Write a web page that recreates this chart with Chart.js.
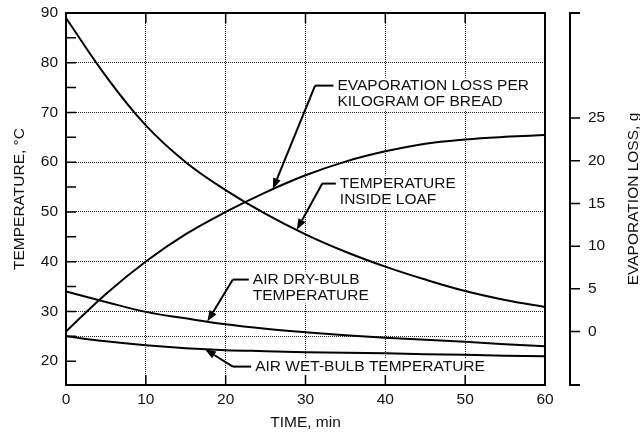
<!DOCTYPE html>
<html lang="en">
<head>
<meta charset="UTF-8">
<title>Bread cooling: temperature and evaporation loss</title>
<script src="https://cdn.jsdelivr.net/npm/chart.js@4"></script>
<style>
  html, body { margin: 0; padding: 0; background: #fff; }
</style>
</head>
<body>
<canvas id="chart" width="640" height="432"></canvas>
<script>
// values, every 5 minutes
const timeMin     = [0, 5, 10, 15, 20, 25, 30, 35, 40, 45, 50, 55, 60];
const loafTemp    = [89, 77.3, 67.4, 60.0, 54.4, 49.6, 45.5, 42.0, 39.0, 36.4, 34.1, 32.3, 30.9];
const dryBulbTemp = [34.0, 31.9, 29.9, 28.6, 27.4, 26.5, 25.8, 25.2, 24.7, 24.3, 23.9, 23.4, 23.0];
const wetBulbTemp = [25.0, 24.0, 23.2, 22.6, 22.2, 22.0, 21.8, 21.7, 21.6, 21.4, 21.3, 21.1, 21.0];
const evapLoss    = [0, 4.4, 8.2, 11.4, 14.0, 16.3, 18.3, 19.9, 21.1, 22.0, 22.5, 22.8, 23.0];

// axis ticks
const timeTicks = [0, 10, 20, 30, 40, 50, 60];
const tempTicks = [20, 25, 30, 35, 40, 45, 50, 55, 60, 65, 70, 75, 80, 85, 90];
const tempGrid  = [25, 30, 40, 50, 60, 70, 80];
const lossTicks = [0, 5, 10, 15, 20, 25];

const FONT_FAMILY = '"Liberation Sans", Arial, sans-serif';
const FONT_SIZE = 15.5;
const INK = '#111';

// callouts: tip sits on a series at time t, elbow and text in data units
const callouts = [
  { text: ['EVAPORATION LOSS PER', 'KILOGRAM OF BREAD'], series: evapLoss, axis: 'y2', t: 25.9, elbow: [31.2, 75.4], textX: 34.0 },
  { text: ['TEMPERATURE', 'INSIDE LOAF'], series: loafTemp, axis: 'y', t: 28.9, elbow: [32.1, 55.7], textX: 34.3 },
  { text: ['AIR DRY-BULB', 'TEMPERATURE'], series: dryBulbTemp, axis: 'y', t: 17.7, elbow: [20.9, 36.4], textX: 23.4 },
  { text: ['AIR WET-BULB TEMPERATURE'], series: wetBulbTemp, axis: 'y', t: 17.4, elbow: [20.9, 18.9], textX: 23.7 }
];

function valueAt(series, t) {
  for (let i = 1; i < timeMin.length; i++) {
    if (t <= timeMin[i]) {
      const f = (t - timeMin[i - 1]) / (timeMin[i] - timeMin[i - 1]);
      return series[i - 1] + f * (series[i] - series[i - 1]);
    }
  }
  return series[series.length - 1];
}

function toPoints(series) {
  return timeMin.map((t, i) => ({ x: t, y: series[i] }));
}

function arrow(ctx, x0, y0, x1, y1) {
  const ang = Math.atan2(y1 - y0, x1 - x0);
  const len = 11, half = 4;
  const bx = x1 - len * Math.cos(ang), by = y1 - len * Math.sin(ang);
  ctx.beginPath();
  ctx.moveTo(x0, y0);
  ctx.lineTo(bx, by);
  ctx.stroke();
  ctx.beginPath();
  ctx.moveTo(x1, y1);
  ctx.lineTo(bx + half * Math.sin(ang), by - half * Math.cos(ang));
  ctx.lineTo(bx - half * Math.sin(ang), by + half * Math.cos(ang));
  ctx.closePath();
  ctx.fill();
}

// frame, inner ticks, detached right axis and callouts
const overlay = {
  id: 'overlay',
  afterDraw(chart) {
    const { ctx, chartArea: a, scales: { x, y, y2 } } = chart;
    ctx.save();
    ctx.strokeStyle = '#000';
    ctx.fillStyle = INK;

    // ticks inside the frame
    ctx.lineWidth = 1.5;
    ctx.beginPath();
    tempTicks.forEach(v => {
      const py = y.getPixelForValue(v);
      ctx.moveTo(a.left, py);
      ctx.lineTo(a.left + 10, py);
    });
    timeTicks.forEach(v => {
      const px = x.getPixelForValue(v);
      ctx.moveTo(px, a.top);
      ctx.lineTo(px, a.top + 10);
      ctx.moveTo(px, a.bottom);
      ctx.lineTo(px, a.bottom - 10);
    });
    ctx.stroke();

    // frame
    ctx.lineWidth = 2;
    ctx.strokeRect(a.left, a.top, a.right - a.left, a.bottom - a.top);

    // evaporation axis, set off to the right of the frame
    const rx = a.right + 25;
    ctx.beginPath();
    ctx.moveTo(rx + 10, a.top);
    ctx.lineTo(rx, a.top);
    ctx.lineTo(rx, a.bottom);
    ctx.lineTo(rx + 10, a.bottom);
    ctx.stroke();
    ctx.lineWidth = 1.5;
    ctx.beginPath();
    lossTicks.forEach(v => {
      const py = y2.getPixelForValue(v);
      ctx.moveTo(rx, py);
      ctx.lineTo(rx + 10, py);
    });
    ctx.stroke();

    ctx.font = FONT_SIZE + 'px ' + FONT_FAMILY;
    ctx.save();
    ctx.translate(638, (a.top + a.bottom) / 2);
    ctx.rotate(-Math.PI / 2);
    ctx.textAlign = 'center';
    ctx.textBaseline = 'alphabetic';
    ctx.fillText('EVAPORATION LOSS, g', 0, 0);
    ctx.restore();

    // callouts
    ctx.lineWidth = 2;
    ctx.textAlign = 'left';
    ctx.textBaseline = 'middle';
    callouts.forEach(c => {
      const tipX = x.getPixelForValue(c.t);
      const tipY = chart.scales[c.axis].getPixelForValue(valueAt(c.series, c.t));
      const ex = x.getPixelForValue(c.elbow[0]);
      const ey = y.getPixelForValue(c.elbow[1]);
      const tx = x.getPixelForValue(c.textX);
      c.text.forEach((line, i) => {
        const ly = ey + i * 16;
        const w = ctx.measureText(line).width;
        ctx.fillStyle = '#fff';
        ctx.fillRect(tx - 1, ly - 8, w + 2, 16);
        ctx.fillStyle = INK;
        ctx.fillText(line, tx, ly);
      });
      ctx.beginPath();
      ctx.moveTo(tx - 4, ey);
      ctx.lineTo(ex, ey);
      ctx.stroke();
      ctx.fillStyle = '#000';
      arrow(ctx, ex, ey, tipX, tipY);
    });
    ctx.restore();
  }
};

Chart.defaults.font.family = FONT_FAMILY;
Chart.defaults.font.size = FONT_SIZE;
Chart.defaults.color = INK;

const lineStyle = {
  borderColor: '#000',
  borderWidth: 2,
  pointRadius: 0,
  fill: false,
  tension: 0.4
};

// vertical scales: keep tick padding from pushing the plot area down
function noVerticalPad(s) {
  s.paddingTop = 0;
  s.paddingBottom = 0;
}

new Chart(document.getElementById('chart'), {
  type: 'line',
  data: {
    datasets: [
      { label: 'Temperature inside loaf', data: toPoints(loafTemp), yAxisID: 'y', ...lineStyle },
      { label: 'Air dry-bulb temperature', data: toPoints(dryBulbTemp), yAxisID: 'y', ...lineStyle },
      { label: 'Air wet-bulb temperature', data: toPoints(wetBulbTemp), yAxisID: 'y', ...lineStyle },
      { label: 'Evaporation loss per kilogram of bread', data: toPoints(evapLoss), yAxisID: 'y2', ...lineStyle }
    ]
  },
  options: {
    responsive: false,
    animation: false,
    devicePixelRatio: 1,
    layout: { padding: { top: 13, left: 0, right: 0, bottom: 0 } },
    plugins: { legend: { display: false }, tooltip: { enabled: false } },
    scales: {
      x: {
        type: 'linear',
        min: 0,
        max: 60,
        afterBuildTicks: s => { s.ticks = timeTicks.map(v => ({ value: v })); },
        afterFit: s => { s.height = 47; },
        ticks: { padding: 5, autoSkip: false, maxRotation: 0 },
        grid: {
          drawTicks: false,
          color: c => (c.tick && c.tick.value > 0 && c.tick.value < 60) ? '#222' : 'rgba(0,0,0,0)'
        },
        border: { display: false, dash: [1, 1] },
        title: { display: true, text: 'TIME, min', padding: { top: 0, bottom: 0 } }
      },
      y: {
        position: 'left',
        min: 15.2,
        max: 90,
        afterBuildTicks: s => { s.ticks = tempTicks.map(v => ({ value: v })); },
        afterFit: s => { s.width = 66; noVerticalPad(s); },
        ticks: { padding: 8, autoSkip: false, callback: v => (v % 10 === 0 ? v : '') },
        grid: {
          drawTicks: false,
          color: c => (c.tick && tempGrid.includes(c.tick.value)) ? '#222' : 'rgba(0,0,0,0)'
        },
        border: { display: false, dash: [1, 1] },
        title: { display: true, text: 'TEMPERATURE, °C', padding: { top: 10, bottom: 0 } }
      },
      y2: {
        position: 'right',
        min: -6.26,
        max: 37.3,
        afterBuildTicks: s => { s.ticks = lossTicks.map(v => ({ value: v })); },
        afterFit: s => { s.width = 95; noVerticalPad(s); },
        ticks: { padding: 43, autoSkip: false },
        grid: { drawOnChartArea: false, drawTicks: false },
        border: { display: false }
      }
    }
  },
  plugins: [overlay]
});
</script>
</body>
</html>
